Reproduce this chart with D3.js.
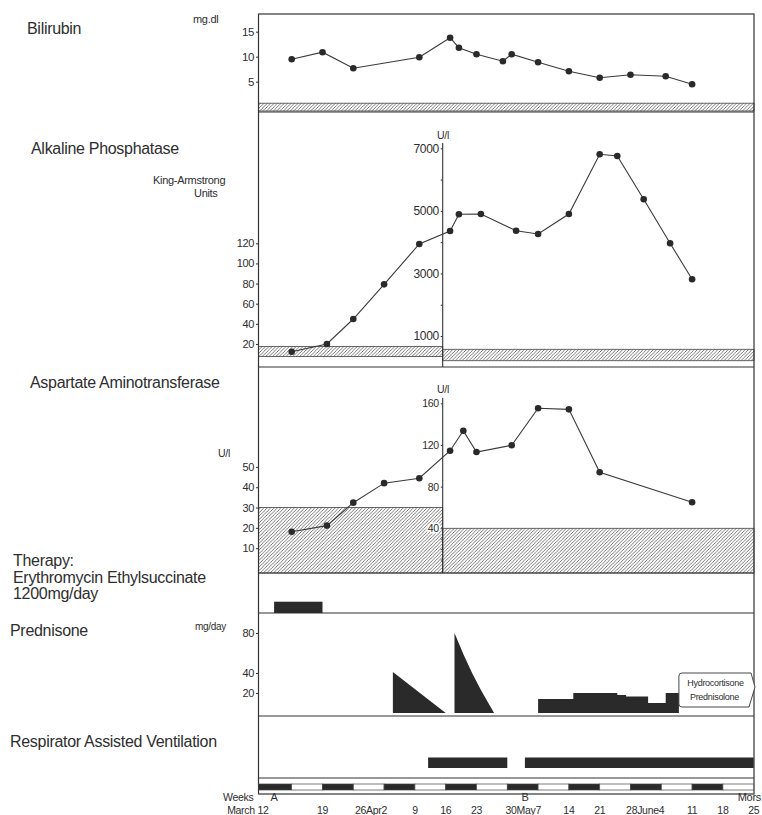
<!DOCTYPE html>
<html>
<head>
<meta charset="utf-8">
<script src="https://cdn.jsdelivr.net/npm/d3@7"></script>
<style>
  body { margin: 0; background: #fff; }
  svg text { font-family: "Liberation Sans", Arial, sans-serif; fill: #2e2e2e; }
</style>
</head>
<body>
<svg id="chart" width="762" height="815"></svg>
<script>
// ---- data (dates are MM-DD, all in the same spring) ----
var bilirubinDates  = ["03-12","03-19","03-26","04-10","04-17","04-19","04-23","04-29","05-01","05-07","05-14","05-21","05-28","06-05","06-11"];
var bilirubinValues = [9.5, 10.9, 7.7, 9.9, 13.8, 11.8, 10.5, 9.1, 10.5, 8.9, 7.1, 5.8, 6.4, 6.1, 4.5];
var bilirubinNormal = [0, 0.7];

// alkaline phosphatase: first in King-Armstrong units, then in U/l
var alkKADates  = ["03-12","03-20","03-26","04-02","04-10"];
var alkKAValues = [12.3, 20, 44.8, 79.2, 119.3];
var alkUDates   = ["04-17","04-19","04-24","05-02","05-07","05-14","05-21","05-25","05-31","06-06","06-11"];
var alkUValues  = [4357, 4891, 4900, 4366, 4261, 4900, 6809, 6754, 5370, 3964, 2813];
var alkKANormal = [7.5, 17.5];
var alkUNormal  = [210, 575];

// aspartate aminotransferase, U/l (two scales)
var astLeftDates   = ["03-12","03-20","03-26","04-02","04-10"];
var astLeftValues  = [18.1, 21.1, 32.4, 42, 44.4];
var astRightDates  = ["04-17","04-20","04-23","05-01","05-07","05-14","05-21","06-11"];
var astRightValues = [114.5, 133.7, 113.2, 119.7, 155.2, 154.2, 93.8, 65];
var astLeftNormal  = 30;
var astRightNormal = 40;

// therapy
var erythromycin = ["03-08", "03-19"];
var prednisoneTaper1Dates = ["04-04","04-04","04-16"];
var prednisoneTaper1Doses = [0, 41, 0];
var prednisoneTaper2Dates = ["04-18","04-18","04-20","04-22","04-24","04-27"];
var prednisoneTaper2Doses = [0, 80, 59, 40, 23, 0];
var steroidDates = ["05-07","05-15","05-25","05-27","06-01","06-05","06-08"];
var steroidDoses = [14, 20, 18, 16.5, 10, 20, 0];
var respiratorStarts = ["04-12","05-04"];
var respiratorEnds   = ["04-30","06-25"];

// axis labels
var bilTicks   = [5, 10, 15];
var alkKATicks = [20, 40, 60, 80, 100, 120];
var alkUTicks  = [1000, 2000, 3000, 4000, 5000, 6000, 7000];
var astLTicks  = [10, 20, 30, 40, 50];
var astRTicks  = [10, 20, 30, 40, 80, 120, 160];
var predTicks  = [20, 40, 80];
var dateTickDates  = ["03-12","03-19","04-02","04-09","04-16","04-23","05-07","05-14","05-21","06-04","06-11","06-18","06-25"];
var dateTickLabels = ["March 12","19","26Apr2","9","16","23","30May7","14","21","28June4","11","18","25"];
var eventDates  = ["03-08","05-04","06-25"];
var eventLabels = ["A","B","Mors"];

// ---- layout ----
var X0 = 258.5, X1 = 754, XM = 442.7;
var TOP = 14, BIL_B = 112, ALK_B = 367, AST_B = 573, THER_B = 613, PRED_B = 716, RESP_B = 778, BOT = 794;

var parse = function(s) { return new Date(Date.UTC(1980, +s.slice(0, 2) - 1, +s.slice(3))); };

var x = d3.scaleUtc().domain([parse("03-05"), parse("06-25")]).range([260.9, 753.7]);
var yBil  = d3.scaleLinear().domain([0, 15]).range([106.7, 31.7]);
var yAlkK = d3.scaleLinear().domain([0, 120]).range([364.1, 243.3]);
var yAlkU = d3.scaleLinear().domain([1000, 7000]).range([336, 148.3]);
var yAstL = d3.scaleLinear().domain([0, 50]).range([568.5, 466.9]);
var yAstR = d3.scaleLinear().domain([40, 160]).range([528.3, 403.3]);
var yPred = d3.scaleLinear().domain([0, 80]).range([713, 633]);

var svg = d3.select("#chart");
var ink = "#2e2e2e";

// hatch pattern
var pat = svg.append("defs").append("pattern")
  .attr("id", "hatch")
  .attr("patternUnits", "userSpaceOnUse")
  .attr("width", 3.4).attr("height", 3.4);
pat.append("path")
  .attr("d", "M-1,1 l2,-2 M0,3.4 l3.4,-3.4 M2.4,4.4 l2,-2")
  .attr("stroke", "#555").attr("stroke-width", 0.8);

function band(x1, x2, y1, y2) {
  svg.append("rect")
    .attr("x", x1).attr("y", y1)
    .attr("width", x2 - x1).attr("height", y2 - y1)
    .attr("fill", "url(#hatch)")
    .attr("stroke", "#444").attr("stroke-width", 0.8);
}

// normal-range bands
band(X0, X1, yBil(bilirubinNormal[1]), BIL_B - 1);
band(X0, XM, yAlkK(alkKANormal[1]), yAlkK(alkKANormal[0]));
band(XM, X1, yAlkU(alkUNormal[1]), yAlkU(alkUNormal[0]));
band(X0, XM, yAstL(astLeftNormal), AST_B);
band(XM, X1, yAstR(astRightNormal), AST_B);

// frame and panel separators
svg.append("rect")
  .attr("x", X0).attr("y", TOP)
  .attr("width", X1 - X0).attr("height", BOT - TOP)
  .attr("fill", "none").attr("stroke", "#333").attr("stroke-width", 1.2);

[BIL_B, ALK_B, AST_B, THER_B, PRED_B, RESP_B].forEach(function(yy) {
  svg.append("line")
    .attr("x1", X0).attr("x2", X1).attr("y1", yy).attr("y2", yy)
    .attr("stroke", "#333").attr("stroke-width", 1.1);
});

// middle axes where the unit changes
svg.append("line").attr("x1", XM).attr("x2", XM).attr("y1", 143).attr("y2", ALK_B)
  .attr("stroke", "#333").attr("stroke-width", 1.1);
svg.append("line").attr("x1", XM).attr("x2", XM).attr("y1", 398).attr("y2", AST_B)
  .attr("stroke", "#333").attr("stroke-width", 1.1);

// axes
function leftAxis(scale, ticks, xPos, size, fmt) {
  var ax = d3.axisLeft(scale).tickValues(ticks).tickSize(2).tickPadding(2);
  if (fmt) ax.tickFormat(fmt);
  var g = svg.append("g").attr("transform", "translate(" + xPos + ",0)").call(ax);
  g.select(".domain").remove();
  g.selectAll(".tick line").attr("stroke", "#333");
  g.selectAll("text")
    .attr("font-family", "Liberation Sans, Arial, sans-serif")
    .attr("font-size", size)
    .attr("letter-spacing", "-0.4")
    .attr("fill", ink);
  return g;
}
leftAxis(yBil, bilTicks, X0 - 0.5, 11.5);
leftAxis(yAlkK, alkKATicks, X0 - 0.5, 11);
leftAxis(yAstL, astLTicks, X0 - 0.5, 11);
leftAxis(yPred, predTicks, X0 - 0.5, 11);
leftAxis(yAlkU, alkUTicks, XM, 12, function(d) { return (d / 1000) % 2 ? d : ""; });
leftAxis(yAstR, astRTicks, XM, 10.5, function(d) { return d >= 40 ? d : ""; })
  .selectAll("text")
  .attr("stroke", "#fff").attr("stroke-width", 3).attr("paint-order", "stroke");

// lab series
var line = d3.line().x(function(d) { return d[0]; }).y(function(d) { return d[1]; });

function pts(dates, values, yScale) {
  return dates.map(function(d, i) { return [x(parse(d)), yScale(values[i])]; });
}
function series(points) {
  svg.append("path").attr("d", line(points))
    .attr("fill", "none").attr("stroke", "#3a3a3a").attr("stroke-width", 1.1);
  svg.selectAll(null).data(points).enter().append("circle")
    .attr("cx", function(d) { return d[0]; })
    .attr("cy", function(d) { return d[1]; })
    .attr("r", 3.3).attr("fill", "#2a2a2a");
}
series(pts(bilirubinDates, bilirubinValues, yBil));
series(pts(alkKADates, alkKAValues, yAlkK).concat(pts(alkUDates, alkUValues, yAlkU)));
series(pts(astLeftDates, astLeftValues, yAstL).concat(pts(astRightDates, astRightValues, yAstR)));

// erythromycin bar
svg.append("rect")
  .attr("x", x(parse(erythromycin[0])))
  .attr("width", x(parse(erythromycin[1])) - x(parse(erythromycin[0])))
  .attr("y", 601.7).attr("height", THER_B - 601.7)
  .attr("fill", "#2a2a2a");

// prednisone / steroids
var area = d3.area()
  .x(function(d) { return x(parse(d[0])); })
  .y0(yPred(0))
  .y1(function(d) { return yPred(d[1]); });
function zip(a, b) { return a.map(function(d, i) { return [d, b[i]]; }); }
svg.append("path").attr("d", area(zip(prednisoneTaper1Dates, prednisoneTaper1Doses))).attr("fill", "#2a2a2a");
svg.append("path").attr("d", area(zip(prednisoneTaper2Dates, prednisoneTaper2Doses))).attr("fill", "#2a2a2a");
svg.append("path").attr("d", area.curve(d3.curveStepAfter)(zip(steroidDates, steroidDoses))).attr("fill", "#2a2a2a");

// hydrocortisone / prednisolone tag
var tagX = x(parse(steroidDates[steroidDates.length - 1]));
svg.append("path")
  .attr("d", "M" + (tagX + 3) + ",673 L751,673 L755,687 L749,707 L" + (tagX + 3) + ",707 Q" + tagX + ",707 " + tagX + ",704 L" + tagX + ",676 Q" + tagX + ",673 " + (tagX + 3) + ",673 Z")
  .attr("fill", "#fff").attr("stroke", "#333").attr("stroke-width", 0.9);
svg.append("text").attr("x", (tagX + 752) / 2).attr("y", 686).attr("text-anchor", "middle")
  .attr("font-size", 9).attr("letter-spacing", "-0.3").text("Hydrocortisone");
svg.append("text").attr("x", (tagX + 750) / 2).attr("y", 700).attr("text-anchor", "middle")
  .attr("font-size", 9).attr("letter-spacing", "-0.3").text("Prednisolone");

// respirator
svg.selectAll(null).data(respiratorStarts).enter().append("rect")
  .attr("x", function(d) { return x(parse(d)); })
  .attr("width", function(d, i) { return Math.min(X1, x(parse(respiratorEnds[i]))) - x(parse(d)); })
  .attr("y", 757.5).attr("height", 10.5)
  .attr("fill", "#2a2a2a");

// weeks strip
var weekStarts = d3.range(16).map(function(i) { return d3.utcDay.offset(parse("03-05"), 7 * i); });
svg.selectAll(null).data(weekStarts).enter().append("rect")
  .attr("x", function(d, i) { return i === 0 ? X0 : x(d); })
  .attr("width", function(d, i) {
    var a = i === 0 ? X0 : x(d);
    return Math.min(X1, x(d3.utcDay.offset(d, 7))) - a;
  })
  .attr("y", 784).attr("height", 6)
  .attr("fill", function(d, i) { return i % 2 ? "#fff" : "#2a2a2a"; })
  .attr("stroke", "#444").attr("stroke-width", 0.7);

// date labels (the first one sits hard against the frame, as in the original)
svg.selectAll(null).data(dateTickDates).enter().append("text")
  .attr("x", function(d, i) {
    var t = dateTickLabels[i];
    if (i === 0) return X0 + 10;
    if (/\D/.test(t)) return x(parse(d)) + (t.match(/\d+$/)[0].length * 3);
    return x(parse(d));
  })
  .attr("y", 814)
  .attr("text-anchor", function(d, i) { return /\D/.test(dateTickLabels[i]) ? "end" : "middle"; })
  .attr("font-size", 10.5).attr("letter-spacing", "-0.3")
  .text(function(d, i) { return dateTickLabels[i]; });

svg.append("text").attr("x", 223).attr("y", 801).attr("font-size", 10.5).attr("letter-spacing", "-0.3").text("Weeks");
svg.selectAll(null).data(eventDates).enter().append("text")
  .attr("x", function(d, i) { return i === eventDates.length - 1 ? 761 : x(parse(d)); })
  .attr("y", 801)
  .attr("text-anchor", function(d, i) { return i === eventDates.length - 1 ? "end" : "middle"; })
  .attr("font-size", 11).attr("letter-spacing", "-0.3")
  .text(function(d, i) { return eventLabels[i]; });

// panel titles and units
function label(t, xx, yy, size, anchor) {
  svg.append("text").attr("x", xx).attr("y", yy)
    .attr("font-size", size).attr("letter-spacing", "-0.3")
    .attr("text-anchor", anchor || "start").text(t);
}
label("Bilirubin", 27, 34, 16);
label("mg.dl", 193, 23, 11);
label("Alkaline Phosphatase", 31, 154, 16);
label("King-Armstrong", 153, 184, 11);
label("Units", 194, 197, 11);
label("U/l", 443, 139, 10.5, "middle");
label("Aspartate Aminotransferase", 30, 388, 16);
label("U/l", 443, 393, 10.5, "middle");
label("U/l", 218, 457, 10.5);
label("Therapy:", 13, 566, 16);
label("Erythromycin Ethylsuccinate", 13, 583, 16);
label("1200mg/day", 13, 599, 16);
label("Prednisone", 10, 636, 16);
label("mg/day", 195, 630, 10);
label("Respirator Assisted Ventilation", 10, 747, 16);
</script>
</body>
</html>
